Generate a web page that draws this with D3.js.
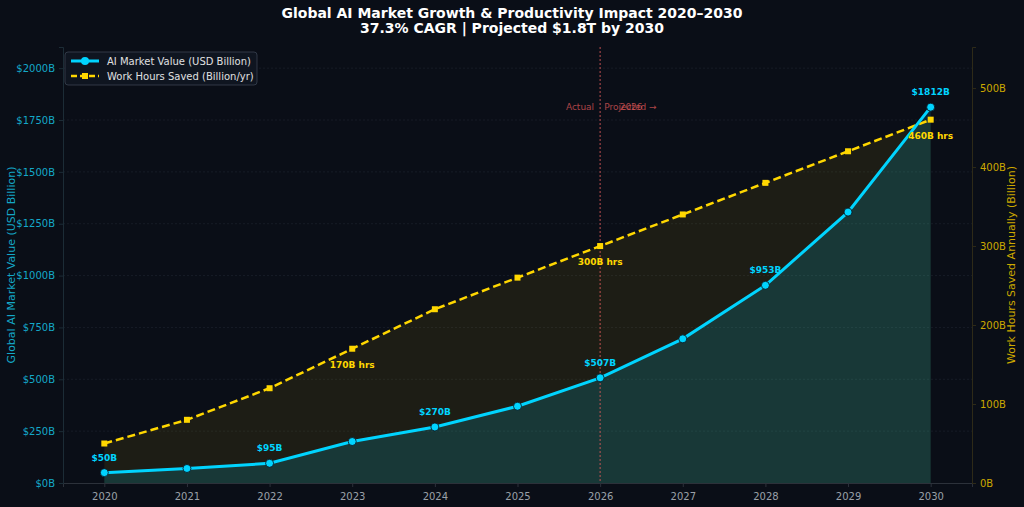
<!DOCTYPE html>
<html>
<head>
<meta charset="utf-8">
<script src="https://cdn.jsdelivr.net/npm/d3@7/dist/d3.min.js"></script>
<style>
  html, body { margin: 0; padding: 0; background: #0a0e17; }
  svg { display: block; font-family: "DejaVu Sans", sans-serif; }
</style>
</head>
<body>
<div id="root"></div>
<script>
// data
const years = [2020, 2021, 2022, 2023, 2024, 2025, 2026, 2027, 2028, 2029, 2030];
const marketValue = [50, 70, 95, 200, 270, 370, 507, 695, 953, 1306, 1812];
const hoursSaved = [50, 80, 120, 170, 220, 260, 300, 340, 380, 420, 460];
const marketLabelYears = [2020, 2022, 2024, 2026, 2028, 2030];
const hoursLabelYears = [2023, 2026, 2030];
const leftTicks = [0, 250, 500, 750, 1000, 1250, 1500, 1750, 2000];
const rightTicks = [0, 100, 200, 300, 400, 500];
const splitYear = 2026;

const width = 1024, height = 507;
const plot = {left: 63, right: 972, top: 47, bottom: 483};

const cyan = "#00d4ff";
const gold = "#ffd700";

const svg = d3.select("#root").append("svg")
    .attr("width", width)
    .attr("height", height);

svg.append("rect").attr("width", width).attr("height", height).attr("fill", "#0a0e17");

const x = d3.scaleLinear().domain([2019.5, 2030.5]).range([plot.left, plot.right]);
const yL = d3.scaleLinear().domain([0, 2102]).range([plot.bottom, plot.top]);
const yR = d3.scaleLinear().domain([0, 552]).range([plot.bottom, plot.top]);

const rows = years.map((yr, i) => ({yr, m: marketValue[i], h: hoursSaved[i]}));

// grid
svg.append("g").selectAll("line").data(leftTicks.slice(1)).enter().append("line")
    .attr("x1", plot.left).attr("x2", plot.right)
    .attr("y1", d => yL(d)).attr("y2", d => yL(d))
    .attr("stroke", "#1a202b").attr("stroke-width", 0.8).attr("stroke-dasharray", "2,2");

// areas
svg.append("path").datum(rows)
    .attr("d", d3.area().x(d => x(d.yr)).y0(yR(0)).y1(d => yR(d.h)))
    .attr("fill", gold).attr("fill-opacity", 0.08);

svg.append("path").datum(rows)
    .attr("d", d3.area().x(d => x(d.yr)).y0(yL(0)).y1(d => yL(d.m)))
    .attr("fill", cyan).attr("fill-opacity", 0.15);

// split line
svg.append("line")
    .attr("x1", x(splitYear)).attr("x2", x(splitYear))
    .attr("y1", plot.top).attr("y2", plot.bottom)
    .attr("stroke", "#e05a5a").attr("stroke-opacity", 0.7)
    .attr("stroke-width", 1.2).attr("stroke-dasharray", "2,2");

const ann = svg.append("g").attr("font-size", 9).attr("fill", "#e05a5a").attr("fill-opacity", 0.75);
ann.append("text").attr("x", x(splitYear) - 6).attr("y", 110).attr("text-anchor", "end").text("Actual");
ann.append("text").attr("x", x(splitYear) + 4).attr("y", 110).text("Projected →");
ann.append("text").attr("x", x(splitYear) + 31).attr("y", 110).attr("text-anchor", "middle").text(splitYear);

// hours line
svg.append("path").datum(rows)
    .attr("d", d3.line().x(d => x(d.yr)).y(d => yR(d.h)))
    .attr("fill", "none").attr("stroke", gold).attr("stroke-width", 2.5)
    .attr("stroke-dasharray", "8,4");

svg.append("g").selectAll("rect").data(rows).enter().append("rect")
    .attr("x", d => x(d.yr) - 3).attr("y", d => yR(d.h) - 3)
    .attr("width", 6).attr("height", 6).attr("fill", gold);

// market line
svg.append("path").datum(rows)
    .attr("d", d3.line().x(d => x(d.yr)).y(d => yL(d.m)))
    .attr("fill", "none").attr("stroke", cyan).attr("stroke-width", 3);

svg.append("g").selectAll("circle").data(rows).enter().append("circle")
    .attr("cx", d => x(d.yr)).attr("cy", d => yL(d.m)).attr("r", 4)
    .attr("fill", cyan).attr("stroke", "#0a0e17").attr("stroke-width", 0.8);

// data labels
svg.append("g").selectAll("text").data(rows.filter(d => marketLabelYears.includes(d.yr))).enter().append("text")
    .attr("x", d => x(d.yr)).attr("y", d => yL(d.m) - 12)
    .attr("text-anchor", "middle").attr("font-size", 9).attr("font-weight", "bold")
    .attr("fill", cyan).text(d => "$" + d.m + "B");

svg.append("g").selectAll("text").data(rows.filter(d => hoursLabelYears.includes(d.yr))).enter().append("text")
    .attr("x", d => x(d.yr)).attr("y", d => yR(d.h) + 19)
    .attr("text-anchor", "middle").attr("font-size", 9).attr("font-weight", "bold")
    .attr("fill", gold).text(d => d.h + "B hrs");

// axes
const styleAxis = (g, color, lineColor) => {
    g.selectAll("text").attr("fill", color).attr("font-size", 10).attr("font-family", "DejaVu Sans, sans-serif");
    g.selectAll("line").attr("stroke", lineColor);
    g.select(".domain").attr("stroke", lineColor);
};

svg.append("g")
    .attr("transform", `translate(0,${plot.bottom})`)
    .call(d3.axisBottom(x).tickValues(years).tickFormat(d3.format("d")).tickSizeOuter(0).tickSize(4).tickPadding(6))
    .call(g => styleAxis(g, "#9aa0a8", "#2c313a"));

svg.append("g")
    .attr("transform", `translate(${plot.left},0)`)
    .call(d3.axisLeft(yL).tickValues(leftTicks).tickFormat(d => "$" + d + "B").tickSizeOuter(0).tickSize(4).tickPadding(4))
    .call(g => styleAxis(g, "#14a8c8", "#1c2c36"));

svg.append("g")
    .attr("transform", `translate(${plot.right},0)`)
    .call(d3.axisRight(yR).tickValues(rightTicks).tickFormat(d => d + "B").tickSizeOuter(0).tickSize(4).tickPadding(4))
    .call(g => styleAxis(g, "#cca800", "#2e2a18"));

// axis titles
svg.append("text")
    .attr("transform", `translate(15,${(plot.top + plot.bottom) / 2}) rotate(-90)`)
    .attr("text-anchor", "middle").attr("font-size", 11).attr("fill", "#14a8c8")
    .text("Global AI Market Value (USD Billion)");

svg.append("text")
    .attr("transform", `translate(1015,${(plot.top + plot.bottom) / 2}) rotate(-90)`)
    .attr("text-anchor", "middle").attr("font-size", 11).attr("fill", "#cca800")
    .text("Work Hours Saved Annually (Billion)");

// title
const title = svg.append("g").attr("font-size", 14).attr("font-weight", "bold").attr("fill", "#ffffff").attr("text-anchor", "middle");
title.append("text").attr("x", width / 2).attr("y", 18).text("Global AI Market Growth & Productivity Impact 2020–2030");
title.append("text").attr("x", width / 2).attr("y", 33).text("37.3% CAGR | Projected $1.8T by 2030");

// legend
const legend = svg.append("g").attr("transform", "translate(65,52)");
legend.append("rect").attr("width", 192).attr("height", 33).attr("rx", 3)
    .attr("fill", "#0f1520").attr("stroke", "#3a4252").attr("stroke-width", 0.8);
const items = [
    {label: "AI Market Value (USD Billion)", color: cyan, dash: null, marker: "circle"},
    {label: "Work Hours Saved (Billion/yr)", color: gold, dash: "6,3", marker: "square"}
];
const li = legend.selectAll("g.item").data(items).enter().append("g")
    .attr("transform", (d, i) => `translate(6,${9 + i * 15})`);
li.append("line").attr("x1", 0).attr("x2", 28).attr("y1", 0).attr("y2", 0)
    .attr("stroke", d => d.color).attr("stroke-width", d => d.marker === "circle" ? 3 : 2.5)
    .attr("stroke-dasharray", d => d.dash);
li.filter(d => d.marker === "circle").append("circle").attr("cx", 14).attr("r", 4).attr("fill", cyan);
li.filter(d => d.marker === "square").append("rect").attr("x", 11).attr("y", -3).attr("width", 6).attr("height", 6).attr("fill", gold);
li.append("text").attr("x", 36).attr("y", 4).attr("font-size", 10).attr("fill", "#e0e0e0").text(d => d.label);
</script>
</body>
</html>
